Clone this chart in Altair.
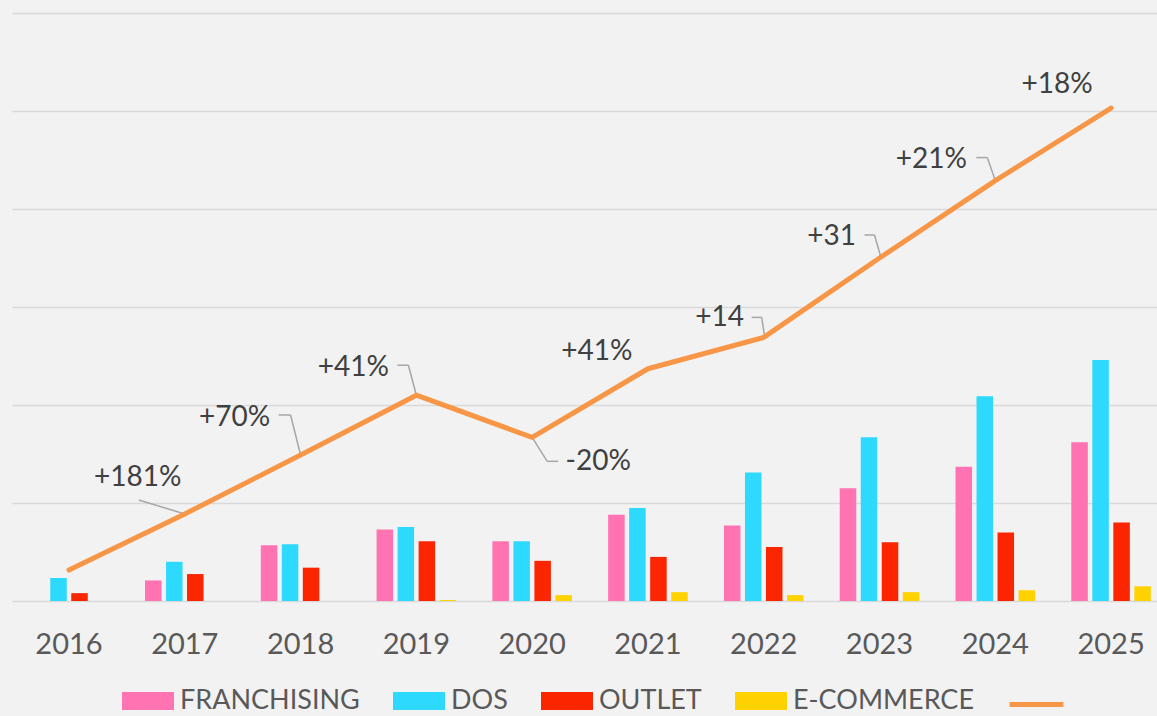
import altair as alt
import pandas as pd

# ---------------- data ----------------
years = ["2016", "2017", "2018", "2019", "2020", "2021", "2022", "2023", "2024", "2025"]
series_names = ["FRANCHISING", "DOS", "OUTLET", "E-COMMERCE"]
franchising = [0.0, 0.21, 0.57, 0.73, 0.61, 0.88, 0.77, 1.15, 1.37, 1.62]
dos = [0.235, 0.40, 0.58, 0.755, 0.61, 0.95, 1.31, 1.67, 2.09, 2.46]
outlet = [0.08, 0.275, 0.34, 0.61, 0.41, 0.45, 0.55, 0.60, 0.70, 0.80]
ecommerce = [0.0, 0.0, 0.0, 0.01, 0.06, 0.09, 0.06, 0.09, 0.11, 0.15]
total = [0.316, 0.888, 1.49, 2.10, 1.67, 2.37, 2.69, 3.50, 4.29, 5.03]
growth_labels = ["", "+181%", "+70%", "+41%", "-20%", "+41%", "+14", "+31", "+21%", "+18%"]

# ---------------- annotation layout (pixel offsets from the line point) ----------------
label_offsets = {
    "2017": (-47, -36), "2018": (-66, -37), "2019": (-63, -27), "2020": (66, 25),
    "2021": (-51, -17), "2022": (-44, -19), "2023": (-48, -21), "2024": (-64, -21),
    "2025": (-54, -23),
}
leader_paths = {
    "2017": [(-46, -14), (0, 0)],
    "2018": [(-22, -40), (-10, -40), (0, 0)],
    "2019": [(-19, -30), (-8, -30), (0, 0)],
    "2020": [(0, 0), (15, 24), (26, 24)],
    "2022": [(-12, -20), (-2, -20), (1, 0)],
    "2023": [(-15, -23), (-5, -23), (1, -2)],
    "2024": [(-19, -23), (-8, -23), (0, 0)],
}

colors = ["#FF73B2", "#2ED9FE", "#FB2500", "#FFD200"]
ORANGE = "#F79646"
FONT = "Lato"

rows = []
for i, y in enumerate(years):
    for s, vals in zip(series_names, [franchising, dos, outlet, ecommerce]):
        rows.append({"year": y, "series": s, "value": vals[i]})
bars_df = pd.DataFrame(rows)
line_df = pd.DataFrame({"year": years, "total": total, "label": growth_labels,
                        "kind": ["total"] * len(years)})

x_scale = alt.Scale(paddingInner=0.313, paddingOuter=0.101, align=0.737)
x_axis = alt.Axis(title=None, labelAngle=0, ticks=False, tickSize=0, domain=False, grid=False,
                  labelFont=FONT, labelFontSize=29, labelColor="#595959",
                  labelPadding=52, labelBaseline="alphabetic")
y_scale = alt.Scale(domain=[0, 6], nice=False, zero=True)
y_axis = alt.Axis(title=None, labels=False, ticks=False, domain=False,
                  values=[0, 1, 2, 3, 4, 5, 6], gridColor="#D9D9D9", gridWidth=1.5)

X = alt.X("year:O", sort=years, scale=x_scale, axis=x_axis)

LEG_Y = 662

bars = alt.Chart(bars_df).mark_bar().encode(
    x=X,
    xOffset=alt.XOffset("series:N", sort=series_names,
                        scale=alt.Scale(paddingInner=0.214, paddingOuter=0)),
    y=alt.Y("value:Q", scale=y_scale, axis=y_axis),
    color=alt.Color("series:N", sort=series_names,
                    scale=alt.Scale(domain=series_names, range=colors),
                    legend=alt.Legend(title=None, orient="none", legendX=110, legendY=LEG_Y,
                                      direction="horizontal",
                                      symbolType="M-1,-0.346H1V0.346H-1Z", symbolSize=2704,
                                      symbolStrokeWidth=0, symbolOpacity=1,
                                      labelFont=FONT, labelFontSize=27, labelColor="#595959",
                                      labelOffset=6, columnPadding=33, labelLimit=500)),
)

line = alt.Chart(line_df).mark_line(strokeWidth=5, strokeCap="round", strokeJoin="round").encode(
    x=X,
    y=alt.Y("total:Q", scale=y_scale, axis=y_axis),
    stroke=alt.Stroke("kind:N", scale=alt.Scale(range=[ORANGE]),
                      legend=alt.Legend(title=None, orient="none", legendX=995, legendY=LEG_Y,
                                        symbolType="stroke", symbolSize=2900,
                                        symbolStrokeWidth=5, labelExpr="''",
                                        labelFontSize=27)),
)

layers = [bars]

for yr, pts in leader_paths.items():
    for (ax, ay), (bx, by) in zip(pts[:-1], pts[1:]):
        seg = alt.Chart(line_df).transform_filter(alt.datum.year == yr).mark_rule(
            color="#A6A6A6", strokeWidth=1.5,
            xOffset=ax, yOffset=ay, x2Offset=bx, y2Offset=by,
        ).encode(x=X, x2="year", y=alt.Y("total:Q", scale=y_scale, axis=y_axis), y2="total")
        layers.append(seg)

layers.append(line)

for yr, (dx, dy) in label_offsets.items():
    txt = alt.Chart(line_df).transform_filter(alt.datum.year == yr).mark_text(
        font=FONT, fontSize=28, color="#404040", align="center", baseline="middle",
        dx=dx, dy=dy,
    ).encode(x=X, y=alt.Y("total:Q", scale=y_scale, axis=y_axis), text="label:N")
    layers.append(txt)

chart = alt.layer(*layers).resolve_legend(color="independent", stroke="independent").properties(
    width=1145, height=588,
    padding={"left": 12, "top": 13, "right": 0, "bottom": 115},
    autosize=alt.AutoSizeParams(type="none"),
    background="#F2F2F2",
).configure_view(strokeWidth=0)

chart.save("out.html", embed_options={"renderer": "svg", "actions": False})
